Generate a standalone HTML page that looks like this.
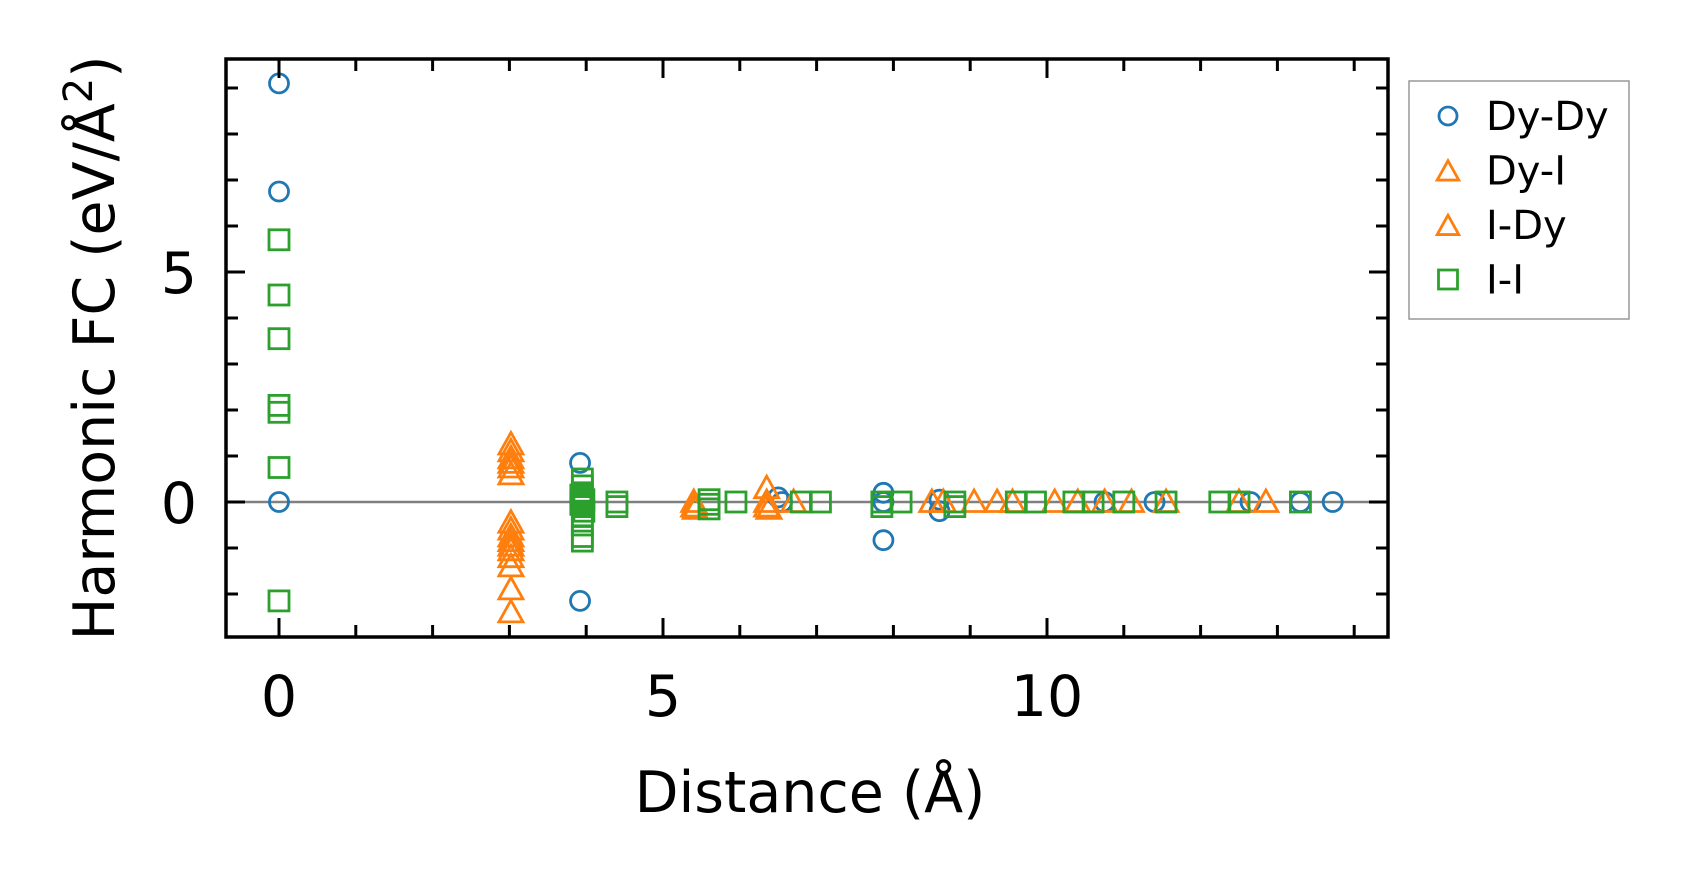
<!DOCTYPE html>
<html><head><meta charset="utf-8"><style>
html,body{margin:0;padding:0;background:#fff;}
svg{display:block;font-family:"DejaVu Sans","Liberation Sans",sans-serif;}
</style></head><body>
<svg id="chart" width="1688" height="883" viewBox="0 0 1688 883">
<g id="marks"></g>
<g id="axes"></g>
</svg>
<script>
const dyDyX=[0,0,0,3.92,3.92,6.5,6.55,7.87,7.87,7.87,8.6,8.6,10.75,11.4,12.65,13.3,13.72];
const dyDyY=[9.1,6.75,0,0.85,-2.15,0.1,0,0.2,0,-0.83,0.05,-0.2,0,0,0,0,0];
const dyIX=[3.02,3.02,3.02,3.02,3.02,3.02,3.02,3.02,3.02,3.02,3.02,3.02,3.02,3.02,3.02,3.02,5.4,5.4,5.42,6.35,6.35,6.35,6.38,6.7,8.5,8.65,9.05,9.35,9.55,10.1,10.4,10.75,11.1,11.55,12.5,12.85];
const dyIY=[1.25,1.1,0.95,0.85,0.75,0.6,-0.45,-0.6,-0.75,-0.85,-0.95,-1.05,-1.2,-1.4,-1.9,-2.4,0,-0.1,-0.15,0.3,0,-0.1,-0.15,0,0,0,0,0,0,0,0,0,0,0,0,0];
const iiX=[0,0,0,0,0,0,0,3.95,3.95,3.95,3.95,3.95,3.95,3.95,3.95,3.95,3.95,3.93,3.97,3.97,3.93,4.4,4.4,5.6,5.6,5.6,5.95,6.8,7.05,7.85,7.85,8.1,8.8,8.8,9.6,9.85,10.35,10.6,11.0,11.55,12.25,12.5,13.3];
const iiY=[5.7,4.5,3.55,2.1,1.95,0.75,-2.15,-0.85,-0.75,-0.5,-0.3,-0.1,0,0.1,0.2,0.35,0.5,-0.05,0.05,-0.2,0.15,0,-0.1,0.05,-0.15,-0.05,0,0,0,0,-0.1,0,0,-0.1,0,0,0,0,0,0,0,0,0];
const xTicks=[0,5,10];
const yTicks=[0,5];
const legendLabels=["Dy-Dy","Dy-I","I-Dy","I-I"];

const L=226,R=1388,T=59,B=637;
const X0=279,XU=76.8,Y0=502,YU=46;
const sx=v=>X0+v*XU, sy=v=>Y0-v*YU;
const NS="http://www.w3.org/2000/svg";
function mk(tag,attrs,parent){const e=document.createElementNS(NS,tag);for(const k in attrs)e.setAttribute(k,attrs[k]);parent.appendChild(e);return e;}
const marks=document.getElementById('marks'), axes=document.getElementById('axes');
const BLUE="#1f77b4",ORANGE="#ff7f0e",GREEN="#2ca02c";
function circle(cx,cy,p,name,s){s=s||1;const e=mk('circle',{cx:cx,cy:cy,r:9.5*s,fill:'none',stroke:BLUE,'stroke-width':2.8},p);

}
function tri(cx,cy,p,name,s){s=s||1;const e=mk('polygon',{points:`${cx},${cy-12*s} ${cx-12*s},${cy+9.5*s} ${cx+12*s},${cy+9.5*s}`,fill:'none',stroke:ORANGE,'stroke-width':2.8},p);

}
function sq(cx,cy,p,name,s){s=s||1;const h=10*s;const e=mk('rect',{x:cx-h,y:cy-h,width:2*h,height:2*h,fill:'none',stroke:GREEN,'stroke-width':2.8},p);

}

const zl=mk('line',{x1:L,x2:R,y1:sy(0),y2:sy(0),stroke:'#808080','stroke-width':2.5},marks);


dyDyX.forEach((x,i)=>circle(sx(x),sy(dyDyY[i]),marks,'point-dy-dy'));
dyIX.forEach((x,i)=>tri(sx(x),sy(dyIY[i]),marks,'point-dy-i'));
iiX.forEach((x,i)=>sq(sx(x),sy(iiY[i]),marks,'point-i-i'));

const fr=mk('rect',{x:L,y:T,width:R-L,height:B-T,fill:'none',stroke:'#000','stroke-width':3.5},axes);


for(let v=0;v<=14;v++){const maj=v%5===0,len=maj?19:12,x=sx(v);
 mk('line',{x1:x,x2:x,y1:B,y2:B-len,stroke:'#000','stroke-width':3},axes);
 mk('line',{x1:x,x2:x,y1:T,y2:T+len,stroke:'#000','stroke-width':3},axes);}
for(let v=-2;v<=9;v++){const maj=v%5===0,len=maj?19:12,y=sy(v);
 mk('line',{x1:L,x2:L+len,y1:y,y2:y,stroke:'#000','stroke-width':3},axes);
 mk('line',{x1:R,x2:R-len,y1:y,y2:y,stroke:'#000','stroke-width':3},axes);}
xTicks.forEach(v=>{const t=mk('text',{x:sx(v),y:716,'text-anchor':'middle','font-size':57},axes);t.textContent=v;

});
yTicks.forEach(v=>{const t=mk('text',{x:197,y:sy(v)+21,'text-anchor':'end','font-size':57},axes);t.textContent=v;

});
const xt=mk('text',{x:810,y:812,'text-anchor':'middle','font-size':57},axes);xt.textContent='Distance (Å)';


const yt=mk('text',{x:0,y:0,'text-anchor':'middle','font-size':57,transform:'translate(114,348) rotate(-90)'},axes);
yt.innerHTML='Harmonic FC (eV/Å<tspan dy="-22" font-size="40">2</tspan><tspan dy="22">)</tspan>';



const lg=mk('g',{},axes);


mk('rect',{x:1409,y:81,width:220,height:238,fill:'#fff',stroke:'#999','stroke-width':1.5},lg);
legendLabels.forEach((lab,i)=>{const cy=116+i*54.5,cx=1448;
 if(i===0)circle(cx,cy,lg,'legend-marker',0.95);else if(i<3)tri(cx,cy+1,lg,'legend-marker',0.9);else sq(cx,cy,lg,'legend-marker',0.95);
 const t=mk('text',{x:1486,y:cy+14,'font-size':40},lg);t.textContent=lab;
 
 });
</script>
</body></html>
